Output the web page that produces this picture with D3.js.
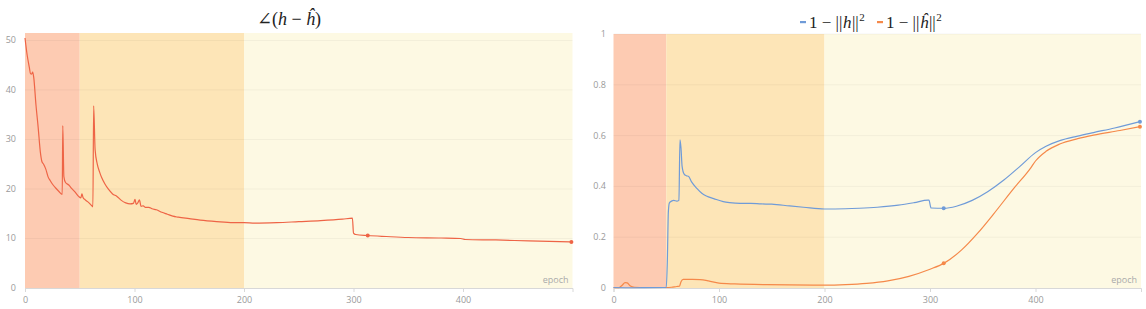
<!DOCTYPE html>
<html><head><meta charset="utf-8">
<script src="https://cdn.jsdelivr.net/npm/d3@7"></script>
<style>
body{margin:0;background:#fff;}
text{font-family:"Open Sans","Noto Sans",sans-serif;}
.math{font-family:"Liberation Serif","DejaVu Serif",serif;}
</style></head><body>
<svg id="c" width="1146" height="309"></svg>
<script>
// ---------- data ----------
const xTicks = [0, 100, 200, 300, 400];
const angleYTicks = [0, 10, 20, 30, 40, 50];
const normYTicks = [0, 0.2, 0.4, 0.6, 0.8, 1];
const phaseStarts = [0, 50, 200];
const phaseEnds = [50, 200, 500];
const phaseColors = ["#fdcbb2", "#fde5b7", "#fdf9e3"];

const angleEpochs = [0,2,4,5,6,7,8,10,12,14,15.5,17,19,21,23,25,28,31,34,34.5,35.5,37,40,43,46,49,51,52,53,55,58,61,62,62.7,64,66,68,70,73,76,80,84,88,92,96,99,100.5,101.5,103,104.5,106,108,110,113,116,120,125,130,135,140,150,160,175,190,200,210,230,250,270,290,299,300,302,313,330,350,380,398,402,430,460,499];
const angleValues = [50.5,47,44.5,43.3,43.2,43.6,42.5,37,32.5,27.5,25.5,25,24,22.5,21.7,21,20.2,19.5,18.9,32.8,22.5,21.3,20.8,20,19.3,18.5,18.2,19,18.3,17.8,17.3,16.6,16.4,36.8,28,25,23.5,22.3,21,20,19,18.5,17.7,17.2,17.0,17.1,17.9,16.9,17.2,17.8,16.5,16.6,16.3,16.3,16.0,15.8,15.3,14.9,14.5,14.3,14.0,13.7,13.4,13.2,13.2,13.1,13.2,13.4,13.6,13.9,14.1,11.1,10.8,10.6,10.4,10.2,10.1,10.0,9.8,9.7,9.5,9.3];
const angleMarkers = [313, 499];

const hEpochs = [0,20,48,50,51,52,53,55,57,60,62,63,64,65,67,69,71,74,79,84,88,95,104,110,120,130,140,150,167,180,200,220,233,250,270,285,298,299,301,313,325,340,355,370,385,400,410,423,440,455,475,499];
const hValues = [0.002,0.001,0.002,0.003,0.1,0.3,0.335,0.342,0.345,0.342,0.345,0.583,0.55,0.48,0.448,0.442,0.44,0.418,0.392,0.372,0.362,0.352,0.34,0.336,0.333,0.333,0.331,0.33,0.323,0.318,0.311,0.312,0.314,0.318,0.326,0.336,0.346,0.346,0.315,0.314,0.322,0.345,0.38,0.425,0.478,0.533,0.558,0.58,0.598,0.612,0.63,0.655];
const hHatEpochs = [0,5,8,11,13,16,20,30,50,55,60,62.5,64,66,75,82,90,100,115,145,200,220,240,260,280,300,313,330,345,360,380,395,400,410,423,440,455,480,499];
const hHatValues = [0.001,0.001,0.01,0.021,0.02,0.008,0.003,0.002,0.002,0.003,0.006,0.007,0.025,0.034,0.034,0.033,0.028,0.019,0.016,0.013,0.011,0.013,0.018,0.028,0.046,0.074,0.097,0.15,0.215,0.29,0.395,0.47,0.5,0.538,0.567,0.588,0.602,0.62,0.635];
const normMarkers = [313, 499];

const angleColor = "#ee6446";
const hColor = "#6f9bd8";
const hHatColor = "#f5894a";

const svg = d3.select("#c");

function panel(opts){
  const g = svg.append("g");
  const x = d3.scaleLinear().domain([0,500]).range([opts.x0, opts.x1]);
  const y = d3.scaleLinear().domain(opts.yDomain).range([opts.y1, opts.y0]);
  g.selectAll("rect.band").data(phaseStarts).enter().append("rect")
    .attr("x", (d)=>x(d)).attr("y", opts.y0)
    .attr("width", (d,i)=>x(phaseEnds[i])-x(d)).attr("height", opts.y1-opts.y0)
    .attr("fill", (d,i)=>phaseColors[i]);
  g.selectAll("line.grid").data(opts.yTicks.filter(t=>t!==0)).enter().append("line")
    .attr("x1", opts.x0).attr("x2", opts.x1)
    .attr("y1", d=>y(d)).attr("y2", d=>y(d))
    .attr("stroke", "rgba(0,0,0,0.045)").attr("stroke-width",1);
  g.selectAll("text.yl").data(opts.yTicks).enter().append("text")
    .attr("x", opts.yLabelX).attr("y", d=>y(d)+3)
    .attr("text-anchor","end").attr("font-size",9).attr("fill","#9a9a9a")
    .text(d=>d);
  const xa = g.append("g").attr("transform",`translate(0,${opts.y1})`)
    .call(d3.axisBottom(x).tickValues(xTicks).tickSize(4).tickPadding(5).tickFormat(d3.format("d")));
  xa.select(".domain").attr("stroke","#d8d8d8");
  xa.selectAll(".tick line").attr("stroke","#d8d8d8");
  xa.selectAll(".tick text").attr("fill","#9a9a9a").attr("font-size",9)
    .attr("font-family",'"Open Sans","Noto Sans",sans-serif');
  g.append("text").attr("x", opts.x1-4).attr("y", opts.y1-5)
    .attr("text-anchor","end").attr("font-size",9).attr("fill","#aaa").text("epoch");
  opts.series.forEach(s=>{
    const pts = s.epochs.map((e,i)=>[e, s.values[i]]);
    const line = d3.line().x(d=>x(d[0])).y(d=>y(d[1])).curve(d3.curveMonotoneX);
    g.append("path").datum(pts).attr("d", line).attr("fill","none")
      .attr("stroke", s.color).attr("stroke-width",1.2).attr("stroke-linejoin","round");
    s.markers.forEach(m=>{
      const idx = d3.bisectLeft(s.epochs, m);
      let v;
      if (s.epochs[idx]===m) v = s.values[idx];
      else { const e0=s.epochs[idx-1], e1=s.epochs[idx]; const t=(m-e0)/(e1-e0); v = s.values[idx-1]+t*(s.values[idx]-s.values[idx-1]); }
      g.append("circle").attr("cx", x(m)).attr("cy", y(v)).attr("r",2).attr("fill", s.color);
    });
  });
  return {x,y,g};
}

panel({x0:25, x1:572.5, y0:33, y1:288, yDomain:[0,51.5], yTicks:angleYTicks, yLabelX:16,
  series:[{epochs:angleEpochs, values:angleValues, color:angleColor, markers:angleMarkers}]});

panel({x0:613.5, x1:1141, y0:34, y1:288, yDomain:[0,1], yTicks:normYTicks, yLabelX:606,
  series:[{epochs:hHatEpochs, values:hHatValues, color:hHatColor, markers:normMarkers},
          {epochs:hEpochs, values:hValues, color:hColor, markers:normMarkers}]});

// Title left
const t = svg.append("text").attr("class","math").attr("x",289).attr("y",25)
  .attr("text-anchor","middle").attr("font-size",18).attr("fill","#222");
t.append("tspan").text("∠(");
t.append("tspan").attr("font-style","italic").text("h");
t.append("tspan").text(" − ");
t.append("tspan").attr("font-style","italic").text("ĥ");
t.append("tspan").text(")");

// Legend right
const legend = [
  {x:800, color:hColor, sym:"h"},
  {x:877, color:hHatColor, sym:"ĥ"}
];
legend.forEach(l=>{
  svg.append("rect").attr("x",l.x).attr("y",21).attr("width",6).attr("height",2.2).attr("fill",l.color);
  const tt = svg.append("text").attr("class","math").attr("x",l.x+9).attr("y",28)
    .attr("font-size",17).attr("fill","#222");
  tt.append("tspan").text("1 − ||");
  tt.append("tspan").attr("font-style","italic").attr("dx",0.5).text(l.sym);
  tt.append("tspan").attr("dx",0.5).text("||");
  tt.append("tspan").attr("font-size",11).attr("dy",-7).attr("dx",0.5).text("2");
});
</script></body></html>
